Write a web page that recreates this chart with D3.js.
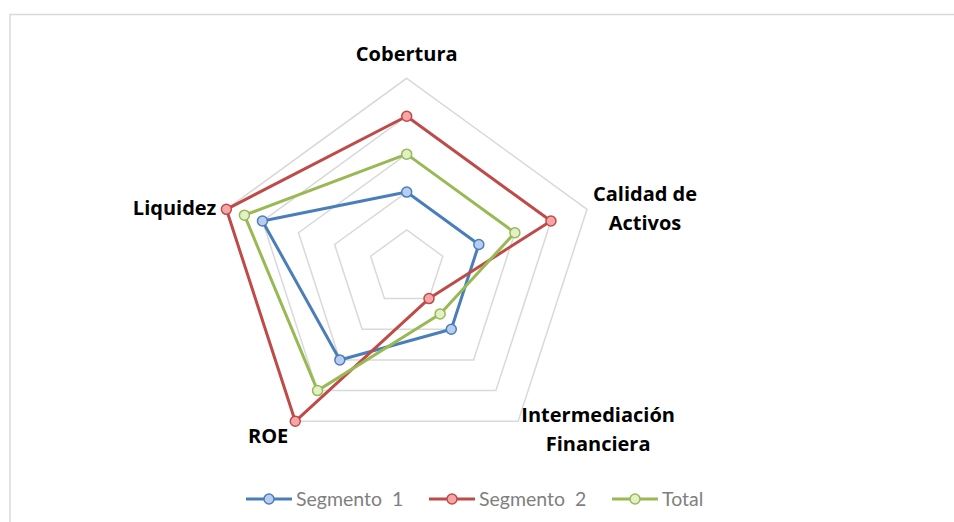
<!DOCTYPE html>
<html>
<head>
<meta charset="utf-8">
<script src="https://cdn.jsdelivr.net/npm/d3@7"></script>
<style>
  body { margin: 0; background: #fff; }
  svg { display: block; font-family: Lato, "Open Sans", sans-serif; }
</style>
</head>
<body>
<div id="grafico"></div>
<script>
// datos
var ejes = ["Cobertura", "Calidad de Activos", "Intermediación Financiera", "ROE", "Liquidez"];
var lineasEjes = [["Cobertura"], ["Calidad de", "Activos"], ["Intermediación", "Financiera"], ["ROE"], ["Liquidez"]];
var segmento1 = [2, 2, 2, 3, 4];
var segmento2 = [4, 4, 1, 5, 5];
var total = [3, 3, 1.5, 4, 4.5];
var niveles = [1, 2, 3, 4, 5];
var nombresSeries = ["Segmento  1", "Segmento  2", "Total"];

var width = 954, height = 522;
var cx = 406.7, cy = 267.9, radio = 189.6;

var series = [
    { nombre: nombresSeries[0], valores: segmento1, color: "#4a7ebb", relleno: "#b9cdf0" },
    { nombre: nombresSeries[1], valores: segmento2, color: "#be4b48", relleno: "#f4a7a6" },
    { nombre: nombresSeries[2], valores: total, color: "#98b954", relleno: "#e2f0c8" }
];

var r = d3.scaleLinear().domain([0, 5]).range([0, radio]);
var angulo = d3.scaleLinear().domain([0, ejes.length]).range([0, 2 * Math.PI]);

var svg = d3.select("#grafico")
    .append("svg")
    .attr("width", width)
    .attr("height", height);

// marco del grafico
svg.append("rect")
    .attr("x", 10).attr("y", 14.5)
    .attr("width", 1000).attr("height", 600)
    .attr("fill", "#fff")
    .attr("stroke", "#d9d9d9")
    .attr("stroke-width", 1.5);

var g = svg.append("g")
    .attr("transform", "translate(" + cx + "," + cy + ")");

var linea = d3.lineRadial()
    .angle(function (d, i) { return angulo(i); })
    .radius(function (d) { return r(d); })
    .curve(d3.curveLinearClosed);

// anillos
g.selectAll(".anillo")
    .data(niveles).enter()
    .append("path")
        .attr("class", "anillo")
        .attr("d", function (n) { return linea(ejes.map(function () { return n; })); })
        .attr("fill", "none")
        .attr("stroke", "#d9d9d9")
        .attr("stroke-width", 1.5);

// series
var gs = g.selectAll(".serie")
    .data(series).enter()
    .append("g")
    .attr("class", "serie");

gs.append("path")
    .attr("d", function (s) { return linea(s.valores); })
    .attr("fill", "none")
    .attr("stroke", function (s) { return s.color; })
    .attr("stroke-width", 3)
    .attr("stroke-linejoin", "round");

var punto = function (v, i) {
    var a = angulo(i) - Math.PI / 2;
    return [r(v) * Math.cos(a), r(v) * Math.sin(a)];
};

gs.selectAll("circle")
    .data(function (s) { return s.valores.map(function (v, i) { return { v: v, i: i, s: s }; }); })
    .enter().append("circle")
        .attr("cx", function (d) { return punto(d.v, d.i)[0]; })
        .attr("cy", function (d) { return punto(d.v, d.i)[1]; })
        .attr("r", 5)
        .attr("fill", function (d) { return d.s.relleno; })
        .attr("stroke", function (d) { return d.s.color; })
        .attr("stroke-width", 1.5);

// etiquetas de los ejes
var ajustes = [
    { dx: 0, dy: -17, anchor: "middle" },
    { dx: 58, dy: -8.5, anchor: "middle" },
    { dx: 80, dy: 0.5, anchor: "middle" },
    { dx: -7, dy: 22, anchor: "end" },
    { dx: -10, dy: 6, anchor: "end" }
];

g.selectAll(".etiqueta")
    .data(ejes).enter()
    .append("text")
        .attr("class", "etiqueta")
        .attr("font-family", "'Open Sans', sans-serif")
        .attr("font-weight", "bold")
        .attr("font-size", 20)
        .attr("fill", "#000")
        .attr("text-anchor", function (d, i) { return ajustes[i].anchor; })
        .each(function (d, i) {
            var p = punto(5, i);
            d3.select(this).selectAll("tspan")
                .data(lineasEjes[i]).enter()
                .append("tspan")
                    .attr("x", p[0] + ajustes[i].dx)
                    .attr("y", function (t, k) { return p[1] + ajustes[i].dy + k * 29; })
                    .text(function (t) { return t; });
        });

// leyenda
var leyenda = svg.append("g")
    .attr("transform", "translate(246,499)");

var items = leyenda.selectAll(".item")
    .data(series).enter()
    .append("g")
    .attr("class", "item")
    .attr("transform", function (s, i) { return "translate(" + (i * 183) + ",0)"; });

items.append("line")
    .attr("x1", 0).attr("x2", 46)
    .attr("stroke", function (s) { return s.color; })
    .attr("stroke-width", 3);

items.append("circle")
    .attr("cx", 23).attr("r", 5)
    .attr("fill", function (s) { return s.relleno; })
    .attr("stroke", function (s) { return s.color; })
    .attr("stroke-width", 1.5);

items.append("text")
    .attr("x", 50).attr("y", 7)
    .attr("font-size", 19.5)
    .attr("fill", "#7f7f7f")
    .style("white-space", "pre")
    .text(function (s) { return s.nombre; });
</script>
</body>
</html>
